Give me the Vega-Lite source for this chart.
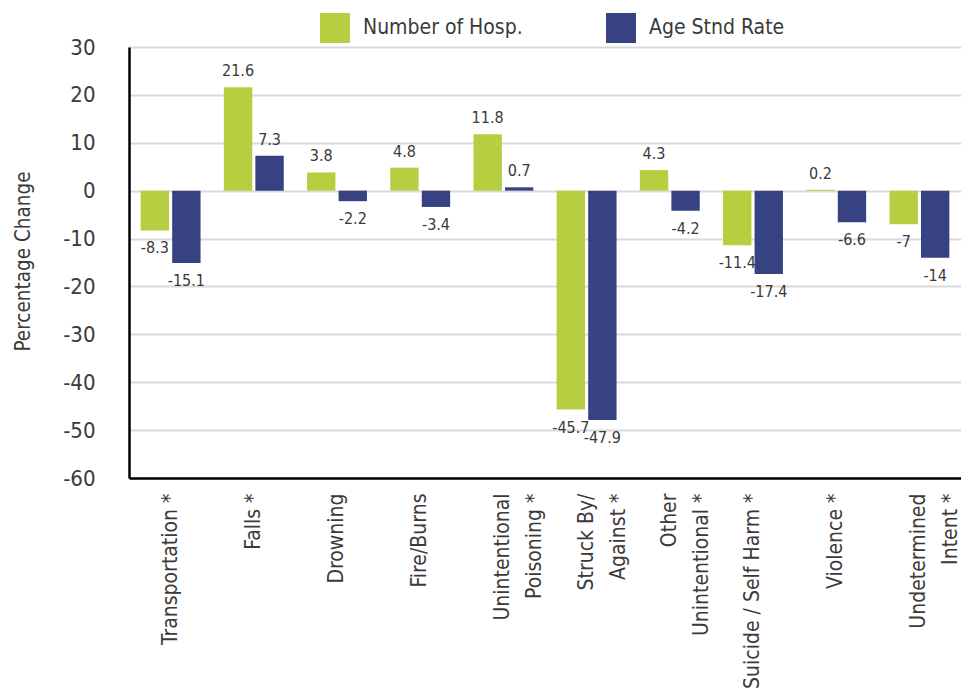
{
  "$schema": "https://vega.github.io/schema/vega-lite/v6.json",
  "width": 832,
  "height": 431,
  "autosize": {"type": "none"},
  "padding": {"left": 129, "top": 47, "right": 0, "bottom": 211},
  "background": "white",
  "config": {
    "font": "DejaVu Sans Condensed, Liberation Sans Narrow, sans-serif",
    "view": {"stroke": null}
  },
  "data": {
    "values": [
      {"category": "Transportation *", "series": "Number of Hosp.", "value": -8.3},
      {"category": "Transportation *", "series": "Age Stnd Rate", "value": -15.1},
      {"category": "Falls *", "series": "Number of Hosp.", "value": 21.6},
      {"category": "Falls *", "series": "Age Stnd Rate", "value": 7.3},
      {"category": "Drowning", "series": "Number of Hosp.", "value": 3.8},
      {"category": "Drowning", "series": "Age Stnd Rate", "value": -2.2},
      {"category": "Fire/Burns", "series": "Number of Hosp.", "value": 4.8},
      {"category": "Fire/Burns", "series": "Age Stnd Rate", "value": -3.4},
      {"category": "Unintentional|Poisoning *", "series": "Number of Hosp.", "value": 11.8},
      {"category": "Unintentional|Poisoning *", "series": "Age Stnd Rate", "value": 0.7},
      {"category": "Struck By/|Against *", "series": "Number of Hosp.", "value": -45.7},
      {"category": "Struck By/|Against *", "series": "Age Stnd Rate", "value": -47.9},
      {"category": "Other|Unintentional *", "series": "Number of Hosp.", "value": 4.3},
      {"category": "Other|Unintentional *", "series": "Age Stnd Rate", "value": -4.2},
      {"category": "Suicide / Self Harm *", "series": "Number of Hosp.", "value": -11.4},
      {"category": "Suicide / Self Harm *", "series": "Age Stnd Rate", "value": -17.4},
      {"category": "Violence *", "series": "Number of Hosp.", "value": 0.2},
      {"category": "Violence *", "series": "Age Stnd Rate", "value": -6.6},
      {"category": "Undetermined|Intent *", "series": "Number of Hosp.", "value": -7},
      {"category": "Undetermined|Intent *", "series": "Age Stnd Rate", "value": -14}
    ]
  },
  "encoding": {
    "x": {
      "field": "category",
      "type": "nominal",
      "sort": null,
      "scale": {"paddingInner": 0.28, "paddingOuter": 0.14},
      "axis": {
        "title": null,
        "labelAngle": -90,
        "labelAlign": "right",
        "labelBaseline": "middle",
        "labelPadding": 15,
        "labelFontSize": 21,
        "labelLineHeight": 32,
        "labelColor": "#3a3a3a",
        "labelLimit": 300,
        "labelExpr": "split(datum.value, '|')",
        "ticks": false,
        "grid": false,
        "domainColor": "#000000",
        "domainWidth": 2.5
      }
    },
    "xOffset": {
      "field": "series",
      "type": "nominal",
      "sort": ["Number of Hosp.", "Age Stnd Rate"],
      "scale": {"paddingInner": 0.1}
    },
    "y": {
      "field": "value",
      "type": "quantitative",
      "scale": {"domain": [-60, 30], "nice": false},
      "axis": {
        "title": "Percentage Change",
        "titleFontSize": 20.5,
        "titleFontWeight": "normal",
        "titleColor": "#3a3a3a",
        "titleX": -96,
        "titleY": 214,
        "values": [-60, -50, -40, -30, -20, -10, 0, 10, 20, 30],
        "labelExpr": "'' + datum.value",
        "labelFontSize": 22,
        "labelColor": "#3a3a3a",
        "labelPadding": 34,
        "ticks": false,
        "grid": true,
        "gridColor": "#d9d9d9",
        "gridWidth": 2,
        "domainColor": "#000000",
        "domainWidth": 2.5
      }
    }
  },
  "layer": [
    {
      "mark": {"type": "bar"},
      "encoding": {
        "color": {
          "field": "series",
          "type": "nominal",
          "sort": ["Number of Hosp.", "Age Stnd Rate"],
          "scale": {"domain": ["Number of Hosp.", "Age Stnd Rate"], "range": ["#b5cf41", "#364281"]},
          "legend": {
            "title": null,
            "orient": "none",
            "legendX": 191,
            "legendY": -34,
            "direction": "horizontal",
            "symbolType": "square",
            "symbolSize": 900,
            "symbolStrokeWidth": 0,
            "labelFontSize": 21,
            "labelColor": "#3a3a3a",
            "labelOffset": 13,
            "labelLimit": 400,
            "columnPadding": 83
          }
        }
      }
    },
    {
      "transform": [{"filter": "datum.value >= 0"}],
      "mark": {"type": "text", "baseline": "bottom", "dy": -8, "fontSize": 16, "color": "#3a3a3a"},
      "encoding": {"text": {"field": "value", "type": "nominal"}}
    },
    {
      "transform": [{"filter": "datum.value < 0"}],
      "mark": {"type": "text", "baseline": "top", "dy": 10, "fontSize": 16, "color": "#3a3a3a"},
      "encoding": {"text": {"field": "value", "type": "nominal"}}
    }
  ]
}
